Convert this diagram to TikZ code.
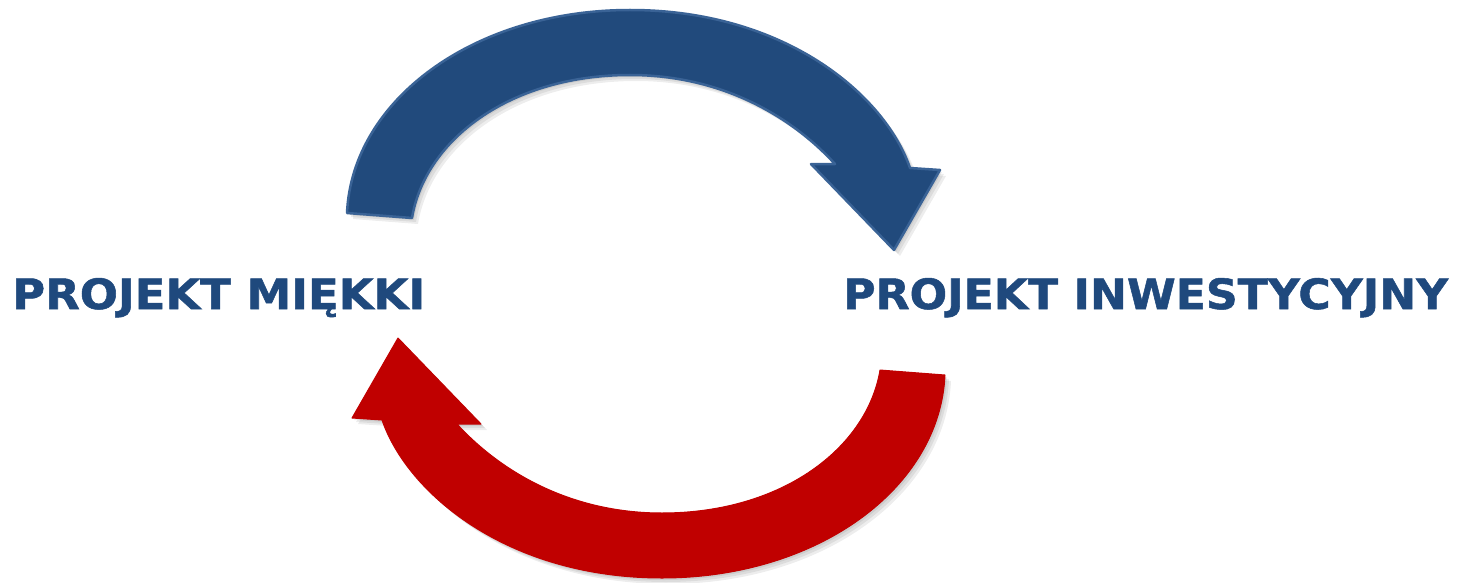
\documentclass[tikz,border=0pt]{standalone}
\usepackage{fontspec}
\usepackage{graphicx}
\setmainfont{DejaVu Sans}
\newfontfamily\labelfont[FakeBold=1.2]{DejaVu Sans Bold}
\definecolor{txtblue}{RGB}{31,73,125}
\definecolor{arrblue}{RGB}{33,74,124}
\definecolor{arrblueedge}{RGB}{58,99,150}
\definecolor{arrred}{RGB}{192,0,0}
\newcommand{\cyclearrowpath}{(347,213) .. controls (352,100) and (474,10) .. (630,10)
  .. controls (785,10) and (885,95) .. (910,168)
  -- (940,170) -- (894,250) -- (811,164) -- (835,164)
  .. controls (790,115) and (720,75) .. (630,75)
  .. controls (510,75) and (425,140) .. (412,218) -- cycle}
\tikzset{
  shadowcopy/.style={fill=black, fill opacity=0.07, draw=none},
  bluearrow/.style={fill=arrblue, draw=arrblueedge, line width=2.5pt, line join=round},
  redarrow/.style={fill=arrred, draw=arrred, line width=1pt, line join=round},
  label/.style={font=\labelfont\fontsize{44}{48}\selectfont, text=txtblue, inner sep=0pt, anchor=base west}
}
\begin{document}
\begin{tikzpicture}[x=1pt, y=-1pt]
\useasboundingbox (0,0) rectangle (1480,583);
% blue arrow shadow + body
\foreach \d in {2,4,6}{
  \path[shadowcopy, shift={(\d,\d)}] \cyclearrowpath;
}
\path[bluearrow] \cyclearrowpath;
% red arrow: same shape turned half round
\begin{scope}[rotate around={180:(646,294)}]
  \foreach \d in {2,4,6}{
    \path[shadowcopy, shift={(-\d,-\d)}] \cyclearrowpath;
  }
  \path[redarrow] \cyclearrowpath;
\end{scope}
% labels
\node[label] (soft) at (12,309) {\resizebox{413pt}{31pt}{PROJEKT MIĘKKI}};
\node[label] (invest) at (843,309) {\resizebox{605pt}{31pt}{PROJEKT INWESTYCYJNY}};
\end{tikzpicture}
\end{document}
